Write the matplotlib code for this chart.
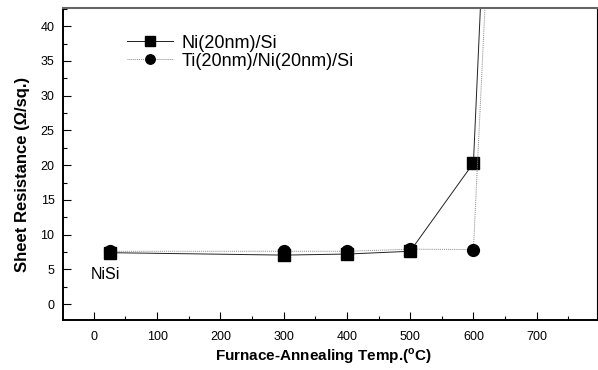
import matplotlib
matplotlib.use('Agg')
import matplotlib.pyplot as plt
from matplotlib.ticker import MultipleLocator

plt.rcParams['font.family'] = ['Liberation Sans', 'DejaVu Sans']

# data
temps = [25, 300, 400, 500, 600, 700]
ni_si = [7.4, 7.05, 7.2, 7.6, 20.3, 223]
ti_ni_si = [7.6, 7.6, 7.6, 7.9, 7.85, 199]

fig = plt.figure(figsize=(5.98, 3.70), dpi=100)
ax = fig.add_axes([0.105, 0.135, 0.893, 0.843])

ax.plot(temps, ni_si, color='#222222', lw=0.7, marker='s', ms=8.5,
        mfc='black', mec='black', label='Ni(20nm)/Si')
ax.plot(temps, ti_ni_si, color='#888888', lw=0.7, ls=(0, (1, 1)), marker='o', ms=8.5,
        mfc='black', mec='black', label='Ti(20nm)/Ni(20nm)/Si')

ax.set_xlim(-49, 795)
ax.set_ylim(-2.3, 42.6)
ax.xaxis.set_major_locator(MultipleLocator(100))
ax.xaxis.set_minor_locator(MultipleLocator(50))
ax.yaxis.set_major_locator(MultipleLocator(5))
ax.yaxis.set_minor_locator(MultipleLocator(2.5))
ax.tick_params(which='both', direction='in', labelsize=9, colors='black')
ax.tick_params(which='major', length=6, width=0.8)
ax.tick_params(which='minor', length=3, width=0.8)
ax.tick_params(axis='x', pad=8)
ax.tick_params(axis='y', pad=6)

for side in ['left', 'bottom']:
    ax.spines[side].set_linewidth(1.4)
ax.spines['top'].set_color('#666666')
ax.spines['top'].set_linewidth(1.5)
ax.spines['right'].set_linewidth(0.8)

ax.set_xlabel('Furnace-Annealing Temp.($^\\mathregular{o}$C)', fontsize=11, fontweight='bold')
ax.xaxis.set_label_coords(0.489, -0.085)
ax.set_ylabel('Sheet Resistance (Ω/sq.)', fontsize=12, fontweight='bold')
ax.yaxis.set_label_coords(-0.062, 0.468)

ax.text(-5, 4.3, 'NiSi', fontsize=11.5, ha='left', va='center')

ax.legend(loc='upper left', bbox_to_anchor=(0.12, 0.915), frameon=False,
          fontsize=13, handlelength=2.55, handletextpad=0.5, borderpad=0,
          borderaxespad=0, labelspacing=0.05, markerscale=0.8)

fig.savefig('out.png', dpi=100)
